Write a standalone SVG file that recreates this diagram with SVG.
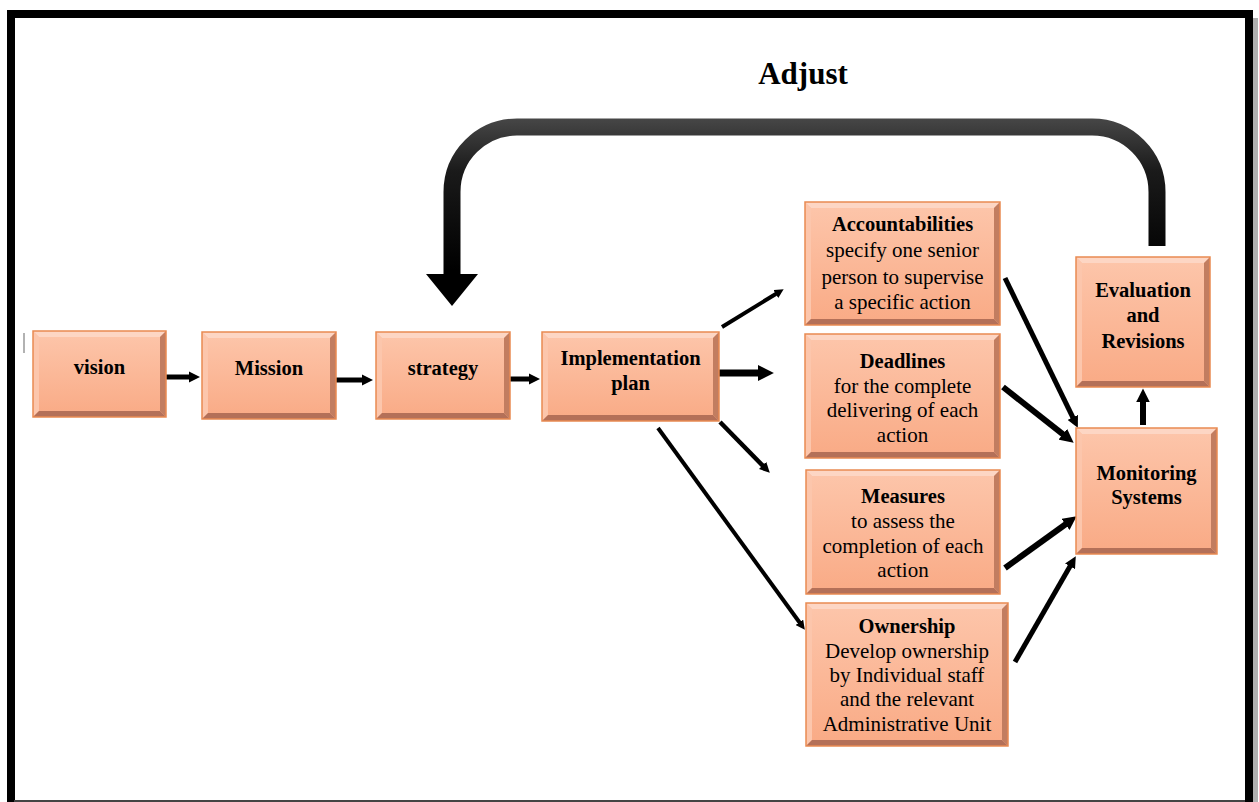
<svg xmlns="http://www.w3.org/2000/svg" width="1259" height="802" viewBox="0 0 1259 802">
<style>
  text { font-family: "Liberation Serif", "Times New Roman", serif; fill: #000; text-anchor: middle; }
  .h { font-weight: bold; font-size: 20.5px; }
  .b { font-size: 21px; }
  .t { font-weight: bold; font-size: 31px; }
  .main { fill: url(#boxfill); stroke: none; }
  .bt { fill: #FDD6C4; }
  .bl { fill: #FCC6AC; }
  .bb { fill: #B47058; }
  .br { fill: #C27D60; }
  .ol { fill: none; stroke: #E98A52; stroke-width: 1.5; }
  .ar { stroke: #000; fill: none; marker-end: url(#ah); }
</style>
<defs>
  <linearGradient id="boxfill" x1="0" y1="0" x2="0" y2="1">
    <stop offset="0" stop-color="#FDC6AB"/>
    <stop offset="1" stop-color="#F9AA85"/>
  </linearGradient>
  <linearGradient id="adj" gradientUnits="userSpaceOnUse" x1="0" y1="118" x2="0" y2="270">
    <stop offset="0" stop-color="#474747"/>
    <stop offset="0.35" stop-color="#1a1a1a"/>
    <stop offset="1" stop-color="#000"/>
  </linearGradient>
  <marker id="ah" viewBox="0 0 10 10" refX="2" refY="5" markerWidth="2.3" markerHeight="2.3" markerUnits="strokeWidth" orient="auto">
    <path d="M0,0 L10,5 L0,10 z" fill="#000"/>
  </marker>
</defs>

<rect width="1259" height="802" fill="#fff"/>

<!-- frame -->
<rect x="1253" y="18" width="5" height="784" fill="#b0b0b0"/>
<rect x="11" y="14" width="1238" height="800" fill="none" stroke="#000" stroke-width="8"/>
<line x1="14" y1="801" x2="1245" y2="801" stroke="#444" stroke-width="2"/>
<line x1="24" y1="333" x2="24" y2="353" stroke="#999" stroke-width="1.5"/>

<text class="t" x="803" y="84">Adjust</text>

<g id="connectors">
  <path d="M1157,246 V192 A65,65 0 0 0 1092,127 H517 A65,65 0 0 0 452,192 V276" fill="none" stroke="url(#adj)" stroke-width="17"/>
  <polygon points="426,274 478,274 452,306" fill="#000"/>
  <line class="ar" x1="166" y1="377" x2="191" y2="377" stroke-width="5"/>
  <line class="ar" x1="336" y1="380" x2="364" y2="380" stroke-width="5"/>
  <line class="ar" x1="510" y1="379" x2="531" y2="379" stroke-width="5"/>
  <line class="ar" x1="719" y1="373" x2="761" y2="373" stroke-width="7"/>
  <line class="ar" x1="722" y1="327" x2="777.4" y2="293" stroke-width="4"/>
  <line class="ar" x1="720" y1="422" x2="764" y2="466.9" stroke-width="4.5"/>
  <line class="ar" x1="658" y1="428" x2="800.5" y2="623.8" stroke-width="4"/>
  <line class="ar" x1="1005" y1="278" x2="1073.8" y2="419.4" stroke-width="5"/>
  <line class="ar" x1="1003" y1="387" x2="1065" y2="435.9" stroke-width="6"/>
  <line class="ar" x1="1005" y1="568" x2="1067.7" y2="522.7" stroke-width="6"/>
  <line class="ar" x1="1015" y1="662" x2="1071.2" y2="564.3" stroke-width="5"/>
  <line class="ar" x1="1143" y1="425" x2="1143" y2="399.5" stroke-width="6"/>
</g>

<g id="vision" transform="translate(33,331)">
  <rect class="main" width="133" height="86"/>
  <polygon class="bt" points="0,0 133,0 127,6 6,6"/>
  <polygon class="bl" points="0,0 6,6 6,80 0,86"/>
  <polygon class="bb" points="0,86 6,80 127,80 133,86"/>
  <polygon class="br" points="133,0 133,86 127,80 127,6"/>
  <rect class="ol" width="133" height="86"/>
  <text class="h" x="66.5" y="43">vision</text>
</g>

<g id="mission" transform="translate(202,332)">
  <rect class="main" width="134" height="87"/>
  <polygon class="bt" points="0,0 134,0 128,6 6,6"/>
  <polygon class="bl" points="0,0 6,6 6,81 0,87"/>
  <polygon class="bb" points="0,87 6,81 128,81 134,87"/>
  <polygon class="br" points="134,0 134,87 128,81 128,6"/>
  <rect class="ol" width="134" height="87"/>
  <text class="h" x="67" y="43">Mission</text>
</g>

<g id="strategy" transform="translate(376,332)">
  <rect class="main" width="134" height="87"/>
  <polygon class="bt" points="0,0 134,0 128,6 6,6"/>
  <polygon class="bl" points="0,0 6,6 6,81 0,87"/>
  <polygon class="bb" points="0,87 6,81 128,81 134,87"/>
  <polygon class="br" points="134,0 134,87 128,81 128,6"/>
  <rect class="ol" width="134" height="87"/>
  <text class="h" x="67" y="43">strategy</text>
</g>

<g id="implementation" transform="translate(542,332)">
  <rect class="main" width="177" height="89"/>
  <polygon class="bt" points="0,0 177,0 171,6 6,6"/>
  <polygon class="bl" points="0,0 6,6 6,83 0,89"/>
  <polygon class="bb" points="0,89 6,83 171,83 177,89"/>
  <polygon class="br" points="177,0 177,89 171,83 171,6"/>
  <rect class="ol" width="177" height="89"/>
  <text class="h" x="88.5" y="33">Implementation</text>
  <text class="h" x="88.5" y="58">plan</text>
</g>

<g id="accountabilities" transform="translate(805,202)">
  <rect class="main" width="195" height="123"/>
  <polygon class="bt" points="0,0 195,0 189,6 6,6"/>
  <polygon class="bl" points="0,0 6,6 6,117 0,123"/>
  <polygon class="bb" points="0,123 6,117 189,117 195,123"/>
  <polygon class="br" points="195,0 195,123 189,117 189,6"/>
  <rect class="ol" width="195" height="123"/>
  <text class="h" x="97.5" y="29">Accountabilities</text>
  <text class="b" x="97.5" y="55">specify one senior</text>
  <text class="b" x="97.5" y="82">person to supervise</text>
  <text class="b" x="97.5" y="107">a specific action</text>
</g>

<g id="deadlines" transform="translate(805,334)">
  <rect class="main" width="195" height="124"/>
  <polygon class="bt" points="0,0 195,0 189,6 6,6"/>
  <polygon class="bl" points="0,0 6,6 6,118 0,124"/>
  <polygon class="bb" points="0,124 6,118 189,118 195,124"/>
  <polygon class="br" points="195,0 195,124 189,118 189,6"/>
  <rect class="ol" width="195" height="124"/>
  <text class="h" x="97.5" y="34">Deadlines</text>
  <text class="b" x="97.5" y="59">for the complete</text>
  <text class="b" x="97.5" y="83">delivering of each</text>
  <text class="b" x="97.5" y="108">action</text>
</g>

<g id="measures" transform="translate(806,470)">
  <rect class="main" width="194" height="124"/>
  <polygon class="bt" points="0,0 194,0 188,6 6,6"/>
  <polygon class="bl" points="0,0 6,6 6,118 0,124"/>
  <polygon class="bb" points="0,124 6,118 188,118 194,124"/>
  <polygon class="br" points="194,0 194,124 188,118 188,6"/>
  <rect class="ol" width="194" height="124"/>
  <text class="h" x="97" y="33">Measures</text>
  <text class="b" x="97" y="58">to assess  the</text>
  <text class="b" x="97" y="83">completion of each</text>
  <text class="b" x="97" y="107">action</text>
</g>

<g id="ownership" transform="translate(806,603)">
  <rect class="main" width="202" height="143"/>
  <polygon class="bt" points="0,0 202,0 196,6 6,6"/>
  <polygon class="bl" points="0,0 6,6 6,137 0,143"/>
  <polygon class="bb" points="0,143 6,137 196,137 202,143"/>
  <polygon class="br" points="202,0 202,143 196,137 196,6"/>
  <rect class="ol" width="202" height="143"/>
  <text class="h" x="101" y="30">Ownership</text>
  <text class="b" x="101" y="55">Develop ownership</text>
  <text class="b" x="101" y="79">by Individual staff</text>
  <text class="b" x="101" y="103">and the relevant</text>
  <text class="b" x="101" y="128">Administrative Unit</text>
</g>

<g id="evaluation" transform="translate(1076,257)">
  <rect class="main" width="134" height="130"/>
  <polygon class="bt" points="0,0 134,0 128,6 6,6"/>
  <polygon class="bl" points="0,0 6,6 6,124 0,130"/>
  <polygon class="bb" points="0,130 6,124 128,124 134,130"/>
  <polygon class="br" points="134,0 134,130 128,124 128,6"/>
  <rect class="ol" width="134" height="130"/>
  <text class="h" x="67" y="40">Evaluation</text>
  <text class="h" x="67" y="65">and</text>
  <text class="h" x="67" y="91">Revisions</text>
</g>

<g id="monitoring" transform="translate(1076,428)">
  <rect class="main" width="141" height="126"/>
  <polygon class="bt" points="0,0 141,0 135,6 6,6"/>
  <polygon class="bl" points="0,0 6,6 6,120 0,126"/>
  <polygon class="bb" points="0,126 6,120 135,120 141,126"/>
  <polygon class="br" points="141,0 141,126 135,120 135,6"/>
  <rect class="ol" width="141" height="126"/>
  <text class="h" x="70.5" y="52">Monitoring</text>
  <text class="h" x="70.5" y="76">Systems</text>
</g>
</svg>
